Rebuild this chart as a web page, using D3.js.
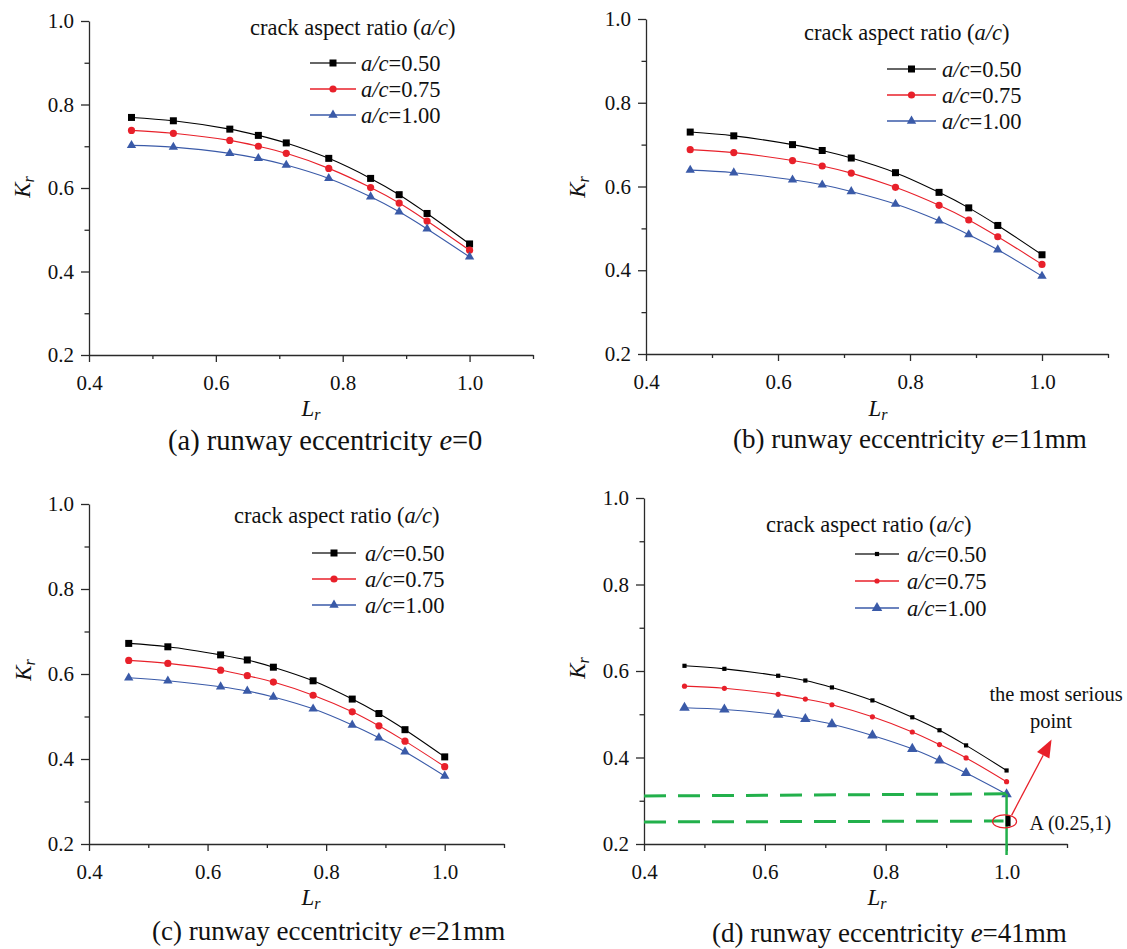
<!DOCTYPE html>
<meta charset="utf-8">

<!-- Load d3.js -->
<script src="https://cdn.jsdelivr.net/npm/d3@7"></script>

<style>
    body { margin: 0; background: #fff; }
    text { font-family: "Liberation Serif", "Times New Roman", serif; fill: #111; }
    .axis path, .axis line { stroke: #2a2a2a; stroke-width: 1.3; }
    .axis text { font-family: "Liberation Serif", "Times New Roman", serif; font-size: 21px; fill: #111; }
</style>

<svg id="chart" width="1127" height="949"></svg>

<script>
    // Lr values shared by all four panels
    var lrValues = [0.467, 0.533, 0.622, 0.667, 0.711, 0.778, 0.844, 0.889, 0.933, 1.0];
    var ratioLabels = ["0.50", "0.75", "1.00"];
    var xTicks = [0.4, 0.6, 0.8, 1.0];
    var xMinor = [0.5, 0.7, 0.9, 1.1];
    var yTicks = [0.2, 0.4, 0.6, 0.8, 1.0];
    var yMinor = [0.3, 0.5, 0.7, 0.9];

    // (a) e = 0
    var krA050 = [0.769, 0.761, 0.741, 0.726, 0.708, 0.671, 0.623, 0.584, 0.539, 0.466];
    var krA075 = [0.738, 0.731, 0.714, 0.700, 0.683, 0.647, 0.601, 0.564, 0.521, 0.451];
    var krA100 = [0.702, 0.698, 0.683, 0.671, 0.655, 0.623, 0.579, 0.543, 0.502, 0.435];
    // (b) e = 11mm
    var krB050 = [0.730, 0.721, 0.700, 0.686, 0.668, 0.633, 0.586, 0.549, 0.507, 0.437];
    var krB075 = [0.688, 0.681, 0.662, 0.649, 0.632, 0.598, 0.555, 0.520, 0.480, 0.414];
    var krB100 = [0.639, 0.633, 0.616, 0.604, 0.588, 0.558, 0.518, 0.485, 0.449, 0.386];
    // (c) e = 21mm
    var krC050 = [0.672, 0.664, 0.645, 0.633, 0.616, 0.584, 0.541, 0.507, 0.469, 0.405];
    var krC075 = [0.632, 0.625, 0.609, 0.596, 0.581, 0.550, 0.511, 0.478, 0.442, 0.382];
    var krC100 = [0.591, 0.584, 0.570, 0.560, 0.546, 0.518, 0.480, 0.450, 0.417, 0.360];
    // (d) e = 41mm
    var krD050 = [0.612, 0.605, 0.589, 0.578, 0.562, 0.532, 0.493, 0.463, 0.428, 0.370];
    var krD075 = [0.565, 0.560, 0.546, 0.535, 0.522, 0.494, 0.459, 0.430, 0.399, 0.344];
    var krD100 = [0.515, 0.511, 0.499, 0.489, 0.477, 0.451, 0.420, 0.393, 0.364, 0.315];

    // annotation in (d): the most serious point A (Kr=0.25, Lr=1)
    var pointA = [1.0, 0.25];
    var guideUpper = [[0.4, 0.311], [1.0, 0.316]];
    var guideLower = [[0.4, 0.251], [0.995, 0.253]];

    var seriesColor = ["#000000", "#e8202a", "#3a5aa8"];
    var green = "#22b04b";

    var svg = d3.select("#chart");

    // panel layout (pixels)
    var panels = [
        { tag: "(a)", ecc: "=0", kr: [krA050, krA075, krA100],
          left: 89, right: 533, top: 21, bottom: 355,
          sq: 7, cr: 3.6, tri: 38, capSize: 28.5,
          leg: { tx: 250, ty: 35, x0: 310, x1: 356, rows: [63, 89, 115], text: 361 },
          kr_lab: [30, 187], lr_lab: [311, 416], cap: [168, 450] },
        { tag: "(b)", ecc: "=11mm", kr: [krB050, krB075, krB100],
          left: 646, right: 1108, top: 19, bottom: 354,
          sq: 7, cr: 3.6, tri: 38, capSize: 27,
          leg: { tx: 804, ty: 40, x0: 887, x1: 936, rows: [69, 95, 121], text: 942 },
          kr_lab: [585, 187], lr_lab: [878, 416], cap: [733, 448] },
        { tag: "(c)", ecc: "=21mm", kr: [krC050, krC075, krC100],
          left: 89, right: 504, top: 504, bottom: 844,
          sq: 7, cr: 3.6, tri: 38, capSize: 27,
          leg: { tx: 234, ty: 523, x0: 312, x1: 356, rows: [553, 579, 605], text: 365 },
          kr_lab: [31, 670], lr_lab: [311, 905], cap: [152, 940] },
        { tag: "(d)", ecc: "=41mm", kr: [krD050, krD075, krD100],
          left: 644, right: 1067, top: 498, bottom: 844,
          sq: 4.2, cr: 2.6, tri: 48, capSize: 27,
          leg: { tx: 766, ty: 532, x0: 855, x1: 899, rows: [554, 581, 608], text: 907 },
          kr_lab: [585, 668], lr_lab: [877, 905], cap: [712, 942] }
    ];

    function drawMarker(g, k, px, py, p, color) {
        if (k === 0) {
            g.append("rect")
                .attr("x", px - p.sq / 2).attr("y", py - p.sq / 2)
                .attr("width", p.sq).attr("height", p.sq)
                .attr("fill", color);
        } else if (k === 1) {
            g.append("circle")
                .attr("cx", px).attr("cy", py).attr("r", p.cr)
                .attr("fill", color);
        } else {
            g.append("path")
                .attr("d", d3.symbol().type(d3.symbolTriangle).size(p.tri)())
                .attr("transform", "translate(" + px + "," + py + ")")
                .attr("fill", color);
        }
    }

    panels.forEach(function(p) {
        var g = svg.append("g");

        var x = d3.scaleLinear().domain([0.4, 1.1]).range([p.left, p.right]);
        var y = d3.scaleLinear().domain([0.2, 1.0]).range([p.bottom, p.top]);
        p.x = x; p.y = y; p.g = g;

        // axes: minor ticks first, then the labelled ones
        g.append("g").attr("class", "axis")
            .attr("transform", "translate(0," + p.bottom + ")")
            .call(d3.axisBottom(x).tickValues(xMinor).tickSize(4).tickFormat(""))
            .select(".domain").remove();
        g.append("g").attr("class", "axis")
            .attr("transform", "translate(0," + p.bottom + ")")
            .call(d3.axisBottom(x).tickValues(xTicks).tickSizeInner(7).tickSizeOuter(0)
                .tickPadding(13).tickFormat(d3.format(".1f")));
        g.append("g").attr("class", "axis")
            .attr("transform", "translate(" + p.left + ",0)")
            .call(d3.axisLeft(y).tickValues(yMinor).tickSize(4.5).tickFormat(""))
            .select(".domain").remove();
        g.append("g").attr("class", "axis")
            .attr("transform", "translate(" + p.left + ",0)")
            .call(d3.axisLeft(y).tickValues(yTicks).tickSizeInner(8).tickSizeOuter(0)
                .tickPadding(7).tickFormat(d3.format(".1f")));
        g.selectAll(".axis text").attr("font-family", null).attr("font-size", null);

        // axis titles
        var lrT = g.append("text")
            .attr("x", p.lr_lab[0]).attr("y", p.lr_lab[1])
            .attr("text-anchor", "middle")
            .style("font-size", "23px").style("font-style", "italic");
        lrT.append("tspan").text("L");
        lrT.append("tspan").attr("dy", 4).style("font-size", "16px").text("r");

        var krT = g.append("text")
            .attr("transform", "translate(" + p.kr_lab[0] + "," + p.kr_lab[1] + ") rotate(-90)")
            .attr("text-anchor", "middle")
            .style("font-size", "23px").style("font-style", "italic");
        krT.append("tspan").text("K");
        krT.append("tspan").attr("dy", 4).style("font-size", "16px").text("r");

        // curves
        var line = d3.line()
            .x(function(d, i) { return x(lrValues[i]); })
            .y(function(d) { return y(d); })
            .curve(d3.curveCatmullRom.alpha(0.5));

        p.kr.forEach(function(vals, k) {
            g.append("path")
                .attr("d", line(vals))
                .attr("fill", "none")
                .attr("stroke", seriesColor[k])
                .attr("stroke-width", 1.1);
            vals.forEach(function(v, i) {
                drawMarker(g, k, x(lrValues[i]), y(v), p, seriesColor[k]);
            });
        });

        // legend
        var lg = p.leg;
        var title = g.append("text").attr("x", lg.tx).attr("y", lg.ty).style("font-size", "22.5px");
        title.append("tspan").text("crack aspect ratio (");
        title.append("tspan").style("font-style", "italic").text("a/c");
        title.append("tspan").text(")");

        ratioLabels.forEach(function(lab, k) {
            var ry = lg.rows[k];
            g.append("line")
                .attr("x1", lg.x0).attr("x2", lg.x1)
                .attr("y1", ry).attr("y2", ry)
                .attr("stroke", k === 0 ? "#333" : seriesColor[k])
                .attr("stroke-width", 1.4);
            drawMarker(g, k, (lg.x0 + lg.x1) / 2, ry, p, seriesColor[k]);
            var t = g.append("text").attr("x", lg.text).attr("y", ry + 7.5).style("font-size", "22.5px");
            t.append("tspan").style("font-style", "italic").text("a/c");
            t.append("tspan").text("=" + lab);
        });

        // caption
        var cap = g.append("text").attr("x", p.cap[0]).attr("y", p.cap[1]).style("font-size", p.capSize + "px");
        cap.append("tspan").text(p.tag + " runway eccentricity ");
        cap.append("tspan").style("font-style", "italic").text("e");
        cap.append("tspan").text(p.ecc);
    });

    // annotation on panel (d)
    (function() {
        var p = panels[3], x = p.x, y = p.y, g = p.g;

        [guideUpper, guideLower].forEach(function(seg) {
            g.append("line")
                .attr("x1", x(seg[0][0])).attr("y1", y(seg[0][1]))
                .attr("x2", x(seg[1][0])).attr("y2", y(seg[1][1]))
                .attr("stroke", green).attr("stroke-width", 3)
                .attr("stroke-dasharray", "22,12");
        });
        g.append("line")
            .attr("x1", x(1.0)).attr("x2", x(1.0))
            .attr("y1", y(guideUpper[1][1])).attr("y2", p.bottom + 11)
            .attr("stroke", green).attr("stroke-width", 2.5);

        // point A
        g.append("rect")
            .attr("x", x(pointA[0]) - 1).attr("y", y(pointA[1]) - 7)
            .attr("width", 5).attr("height", 11)
            .attr("fill", "#000");
        g.append("ellipse")
            .attr("cx", x(pointA[0]) - 2).attr("cy", y(pointA[1]) - 1)
            .attr("rx", 12).attr("ry", 6.5)
            .attr("fill", "none")
            .attr("stroke", "#e8202a").attr("stroke-width", 1.2);

        g.append("text")
            .attr("x", x(pointA[0]) + 23).attr("y", y(pointA[1]) + 8)
            .style("font-size", "20px")
            .text("A (0.25,1)");

        // arrow to the label
        var ax0 = x(pointA[0]) + 5, ay0 = y(pointA[1]) - 7;
        var ax1 = x(pointA[0]) + 45, ay1 = y(pointA[1]) - 83;
        var ang = Math.atan2(ay1 - ay0, ax1 - ax0);
        var hl = 18, hw = 7;
        var bx = ax1 - hl * Math.cos(ang), by = ay1 - hl * Math.sin(ang);
        g.append("line")
            .attr("x1", ax0).attr("y1", ay0).attr("x2", bx).attr("y2", by)
            .attr("stroke", "#e8202a").attr("stroke-width", 1.3);
        g.append("path")
            .attr("d", "M" + ax1 + "," + ay1 +
                "L" + (bx + hw * Math.sin(ang)) + "," + (by - hw * Math.cos(ang)) +
                "L" + (bx - hw * Math.sin(ang)) + "," + (by + hw * Math.cos(ang)) + "Z")
            .attr("fill", "#e8202a");

        g.append("text")
            .attr("x", 1056).attr("y", 701)
            .attr("text-anchor", "middle")
            .style("font-size", "20.5px")
            .text("the most serious");
        g.append("text")
            .attr("x", 1051).attr("y", 728)
            .attr("text-anchor", "middle")
            .style("font-size", "20.5px")
            .text("point");
    })();
</script>
